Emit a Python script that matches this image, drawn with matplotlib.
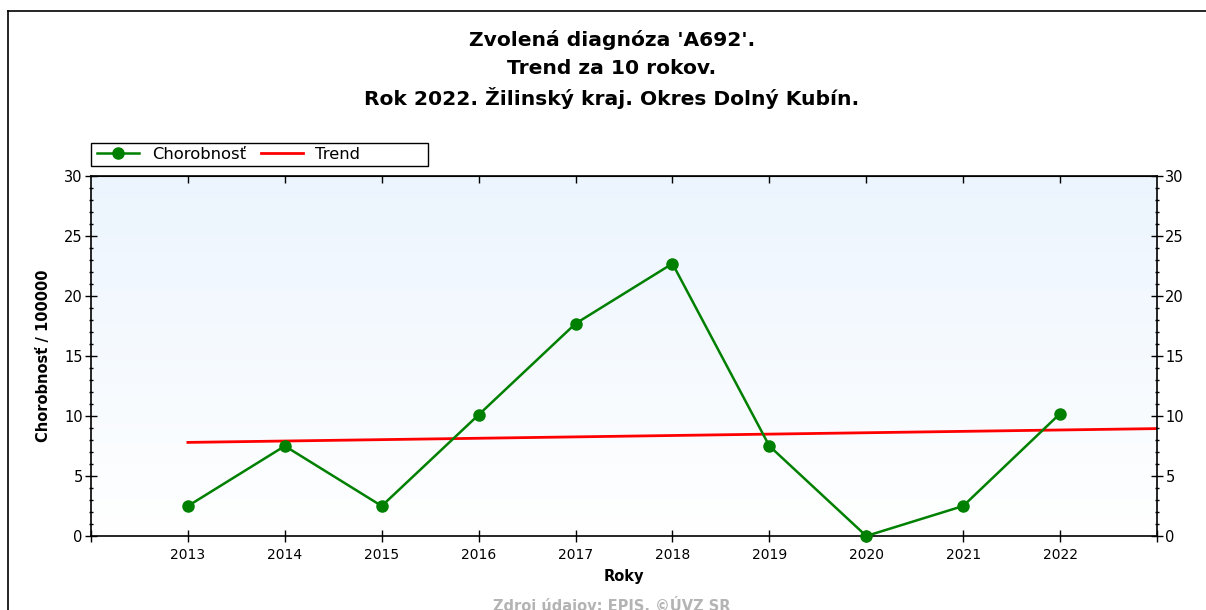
import matplotlib.pyplot as plt
import matplotlib.lines as mlines
import matplotlib.patches as mpatches
import numpy as np

# data
years = [2013, 2014, 2015, 2016, 2017, 2018, 2019, 2020, 2021, 2022]
chorobnost = [2.5, 7.5, 2.5, 10.1, 17.7, 22.7, 7.5, 0.0, 2.5, 10.2]
trend_years = [2013, 2023]
trend_values = [7.8, 8.95]
title_lines = ["Zvolená diagnóza 'A692'.", "Trend za 10 rokov.",
               "Rok 2022. Žilinský kraj. Okres Dolný Kubín."]

plt.rcParams['font.family'] = ['DejaVu Sans']

W, H = 1206, 610
fig = plt.figure(figsize=(W / 100, H / 100), dpi=100)


def fx(px):
    return px / W


def fy(py):
    return 1 - py / H


# frame of the picture (only top and left visible)
fig.add_artist(mlines.Line2D([fx(8), 1], [fy(10.5), fy(10.5)], color='black', lw=1.2))
fig.add_artist(mlines.Line2D([fx(8), fx(8)], [fy(10.5), 0], color='black', lw=1.2))

ax = fig.add_axes([fx(91), fy(536), fx(1157) - fx(91), (536 - 176) / H])

# background gradient
grad = np.linspace(0, 1, 256).reshape(-1, 1)
top = np.array([0.925, 0.96, 0.995])
bottom = np.array([1.0, 1.0, 1.0])
img = bottom + (top - bottom) * grad
ax.imshow(img[:, None, :].repeat(2, axis=1), extent=[2012, 2023, 0, 30],
          origin='lower', aspect='auto', zorder=0)

ax.plot(trend_years, trend_values, color='#ff0000', lw=2, zorder=2, label='Trend')
ax.plot(years, chorobnost, color='#008000', lw=1.8, marker='o', markersize=8,
        zorder=3, label='Chorobnosť', clip_on=False)

ax.set_xlim(2012, 2023)
ax.set_ylim(0, 30)

ax.set_xticks(range(2012, 2024))
ax.set_xticklabels([''] + [str(y) for y in years] + [''])
ax.set_yticks(range(0, 31, 5))
ax.set_yticks(range(0, 31), minor=True)

ax.tick_params(axis='y', which='major', direction='inout', length=8, width=1,
               left=True, right=True, labelleft=True, labelright=True, labelsize=10.5, pad=2)
ax.tick_params(axis='y', which='minor', direction='inout', length=3.5, width=1,
               left=True, right=True)
ax.tick_params(axis='x', which='major', direction='inout', length=9, width=1,
               labelsize=10, pad=4)

sec = ax.secondary_xaxis('top')
sec.set_xticks(range(2013, 2023))
sec.tick_params(direction='in', length=5, width=1, labeltop=False)

for s in ax.spines.values():
    s.set_linewidth(1.2)

ax.set_xlabel('Roky', fontsize=10.5, fontweight='bold', labelpad=5)
ax.set_ylabel('Chorobnosť / 100000', fontsize=10.5, fontweight='bold', labelpad=9)

for i, line in enumerate(title_lines):
    fig.text(fx(612), fy(40 + 29 * i), line, ha='center', va='center',
             fontsize=14.6, fontweight='bold')

# legend with its own box, wider than the entries
handles, labels = ax.get_legend_handles_labels()
leg = fig.legend(handles[::-1], labels[::-1],
                 loc='center left', bbox_to_anchor=(fx(91), fy(154.5)), ncol=2,
                 fontsize=11.8, frameon=False, handlelength=2.6,
                 columnspacing=0.9, handletextpad=0.75, borderaxespad=0,
                 borderpad=0.35)
fig.add_artist(mpatches.Rectangle((fx(91), fy(166)), fx(428) - fx(91), (166 - 143) / H,
                                  transform=fig.transFigure, fill=False,
                                  edgecolor='black', lw=1))

fig.text(fx(612), fy(596), 'Zdroj údajov: EPIS, ©ÚVZ SR', ha='center', va='top',
         fontsize=10.5, fontweight='bold', color='#b4b4b4')

fig.savefig('out.png', dpi=100)
